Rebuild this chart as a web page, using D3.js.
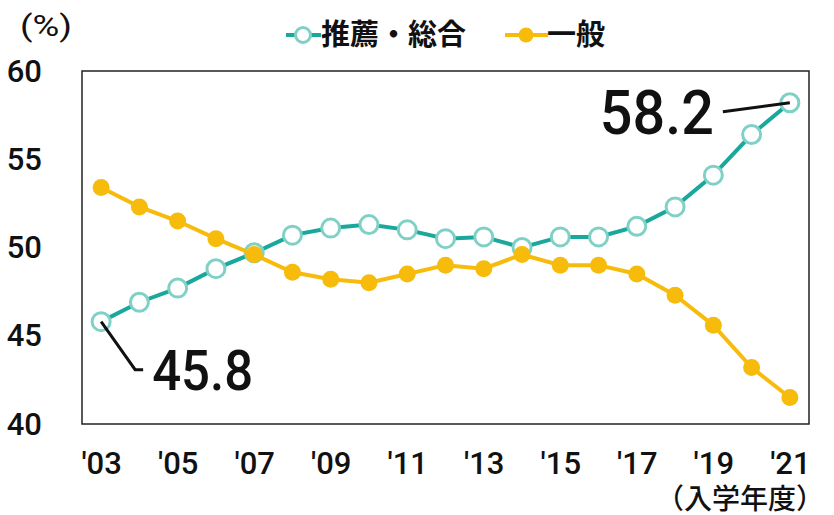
<!DOCTYPE html>
<html>
<head>
<meta charset="utf-8">
<script src="https://cdn.jsdelivr.net/npm/d3@7"></script>
<style>
  body { margin: 0; background: #fff; }
  text { font-family: "Roboto", "Noto Sans CJK JP", sans-serif; }
</style>
</head>
<body>
<div id="chart"></div>
<script>
// data
const years = ["'03","'04","'05","'06","'07","'08","'09","'10","'11","'12","'13","'14","'15","'16","'17","'18","'19","'20","'21"];
const suisen = [45.8,46.9,47.7,48.8,49.7,50.7,51.1,51.3,51.0,50.5,50.6,50.0,50.6,50.6,51.2,52.3,54.1,56.4,58.2];
const ippan = [53.4,52.3,51.5,50.5,49.6,48.6,48.2,48.0,48.5,49.0,48.8,49.6,49.0,49.0,48.5,47.3,45.6,43.2,41.5];
const yTicks = [40,45,50,55,60];
const xTickLabels = ["'03","'05","'07","'09","'11","'13","'15","'17","'19","'21"];

const width = 834, height = 515;
const margin = {top: 71, right: 25, bottom: 91, left: 82};
const innerWidth = width - margin.left - margin.right;
const innerHeight = height - margin.top - margin.bottom;

const teal = "#1aa89c", tealLight = "#80d1c5", yellow = "#f7bb0c";

const svg = d3.select("#chart").append("svg")
  .attr("width", width)
  .attr("height", height);

const g = svg.append("g").attr("transform", `translate(${margin.left},${margin.top})`);

// scales
const xScale = d3.scalePoint()
  .domain(years)
  .range([0, innerWidth])
  .padding(0.5);

const yScale = d3.scaleLinear()
  .domain([40, 60])
  .range([innerHeight, 0]);

// frame
g.append("rect")
  .attr("width", innerWidth).attr("height", innerHeight)
  .attr("fill", "none").attr("stroke", "#222").attr("stroke-width", 1.5);

// y axis
const yAxis = g.append("g").call(d3.axisLeft(yScale).tickValues(yTicks).tickSize(0).tickPadding(40));
yAxis.select(".domain").remove();
yAxis.selectAll("text").attr("font-size", 31).attr("font-weight", 500).attr("fill", "#111")
  .attr("font-family", "Roboto, sans-serif").attr("dy", "0.33em");

// x axis
const xAxis = g.append("g").attr("transform", `translate(0,${innerHeight})`)
  .call(d3.axisBottom(xScale).tickValues(xTickLabels).tickSize(0).tickPadding(28));
xAxis.select(".domain").remove();
xAxis.selectAll("text").attr("font-size", 31).attr("font-weight", 500).attr("fill", "#111")
  .attr("font-family", "Roboto, sans-serif");

const line = d3.line().x((d, i) => xScale(years[i])).y(d => yScale(d));

// 推薦・総合 line
g.append("path").datum(suisen)
  .attr("d", line).attr("fill", "none").attr("stroke", teal).attr("stroke-width", 4);
g.selectAll(".pt-s").data(suisen).enter().append("circle")
  .attr("class", "pt-s")
  .attr("cx", (d, i) => xScale(years[i]))
  .attr("cy", d => yScale(d))
  .attr("r", 9)
  .attr("fill", "#fff").attr("stroke", tealLight).attr("stroke-width", 3);

// 一般 line
g.append("path").datum(ippan)
  .attr("d", line).attr("fill", "none").attr("stroke", yellow).attr("stroke-width", 4);
g.selectAll(".pt-i").data(ippan).enter().append("circle")
  .attr("class", "pt-i")
  .attr("cx", (d, i) => xScale(years[i]))
  .attr("cy", d => yScale(d))
  .attr("r", 8.5)
  .attr("fill", yellow);

// annotations
const first = suisen[0], last = suisen[suisen.length - 1];
const x0 = xScale(years[0]), y0 = yScale(first);
g.append("path")
  .attr("d", `M${x0},${y0} L${x0 + 34},${y0 + 48} L${x0 + 42},${y0 + 48}`)
  .attr("fill", "none").attr("stroke", "#111").attr("stroke-width", 3);
g.append("text")
  .attr("x", x0 + 51).attr("y", y0 + 68)
  .attr("font-size", 56).attr("font-weight", 500).attr("fill", "#111")
  .attr("textLength", 101).attr("lengthAdjust", "spacingAndGlyphs")
  .text(first.toFixed(1));

const x1 = xScale(years[years.length - 1]), y1 = yScale(last);
g.append("path")
  .attr("d", `M${x1 - 67},${y1 + 9} L${x1},${y1}`)
  .attr("fill", "none").attr("stroke", "#111").attr("stroke-width", 3);
g.append("text")
  .attr("x", x1 - 76).attr("y", y1 + 31)
  .attr("text-anchor", "end")
  .attr("font-size", 62).attr("font-weight", 500).attr("fill", "#111")
  .attr("textLength", 114).attr("lengthAdjust", "spacingAndGlyphs")
  .text(last.toFixed(1));

// unit labels
svg.append("text").attr("x", 20).attr("y", 36)
  .attr("font-size", 30).attr("fill", "#111")
  .attr("font-family", "Roboto, sans-serif")
  .attr("textLength", 52).attr("lengthAdjust", "spacingAndGlyphs")
  .text("(%)");
svg.append("text").attr("x", 824).attr("y", 509)
  .attr("text-anchor", "end")
  .attr("font-size", 28).attr("font-weight", 500).attr("fill", "#111")
  .attr("font-family", "Noto Sans CJK JP, sans-serif")
  .text("（入学年度）");

// legend
const legend = svg.append("g").attr("transform", "translate(0,35)");
legend.append("line").attr("x1", 286).attr("x2", 321).attr("stroke", teal).attr("stroke-width", 4);
legend.append("circle").attr("cx", 303).attr("r", 7.5).attr("fill", "#fff").attr("stroke", tealLight).attr("stroke-width", 3);
legend.append("text").attr("x", 321).attr("y", 10)
  .attr("font-size", 29).attr("font-weight", "bold").attr("fill", "#111")
  .attr("font-family", "Noto Sans CJK JP, sans-serif")
  .text("推薦・総合");
legend.append("line").attr("x1", 505).attr("x2", 548).attr("stroke", yellow).attr("stroke-width", 4);
legend.append("circle").attr("cx", 526).attr("r", 7.5).attr("fill", yellow);
legend.append("text").attr("x", 547).attr("y", 10)
  .attr("font-size", 29).attr("font-weight", "bold").attr("fill", "#111")
  .attr("font-family", "Noto Sans CJK JP, sans-serif")
  .text("一般");
</script>
</body>
</html>
